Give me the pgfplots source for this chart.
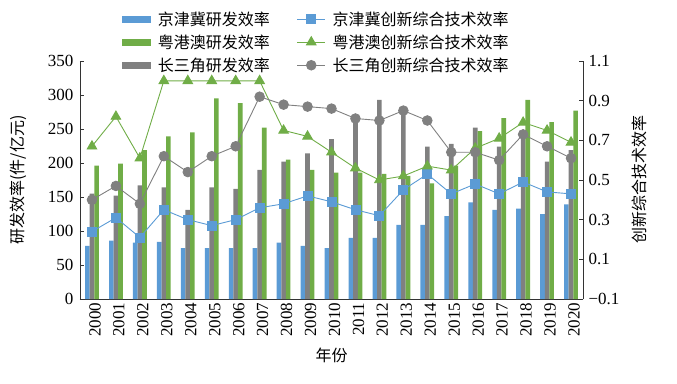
\documentclass[border=0pt]{standalone}
\usepackage{pgfplots}
\usepackage{pgfplotstable}
\pgfplotsset{compat=1.18}
\usepackage{fontspec}
\setmainfont{Liberation Serif}
\newfontfamily\cjk{Noto Sans CJK SC}
\definecolor{cblue}{HTML}{5B9BD5}
\definecolor{cgreen}{HTML}{70AD47}
\definecolor{cgray}{HTML}{808080}

\pgfplotstableread{
x blue gray green rb rg rgr
0 78 155 196 0.24 0.67 0.40
1 86 152 199 0.31 0.82 0.47
2 83 167 219 0.21 0.61 0.38
3 84 164 239 0.35 1.00 0.62
4 75 131 245 0.30 1.00 0.54
5 75 164 295 0.27 1.00 0.62
6 75 162 288 0.30 1.00 0.67
7 75 190 252 0.36 1.00 0.92
8 83 202 205 0.38 0.75 0.88
9 78 214 190 0.42 0.72 0.87
10 75 235 186 0.39 0.64 0.86
11 90 265 186 0.35 0.56 0.81
12 90 293 184 0.32 0.50 0.80
13 109 276 181 0.45 0.52 0.85
14 109 224 170 0.53 0.57 0.80
15 122 228 196 0.43 0.55 0.64
16 142 252 247 0.48 0.66 0.64
17 131 224 266 0.43 0.71 0.60
18 133 246 293 0.49 0.79 0.73
19 125 202 260 0.44 0.75 0.67
20 139 219 277 0.43 0.69 0.61
}\data

\pgfplotsset{
  lineleg/.style={legend image code/.code={\draw[mark repeat=2,mark phase=2,##1] plot coordinates {(0bp,0bp) (14bp,0bp) (28bp,0bp)};}},
  common/.style={scale only axis, width=503bp, height=238bp, xmin=-0.5, xmax=20.5,
    tick align=inside, major tick length=4bp,
    tick label style={font=\fontsize{17bp}{20bp}\selectfont},
    /pgf/number format/assume math mode=true,
    axis line style={black!80, line width=0.8bp},
    every tick/.style={black!80, line width=0.8bp}},
}

\begin{document}
\begin{tikzpicture}
\begin{axis}[common,
  ymin=0, ymax=350,
  axis x line*=bottom, axis y line*=left,
  ytick={0,50,...,350},
  xtick={0,...,20},
  xticklabels={2000,2001,2002,2003,2004,2005,2006,2007,2008,2009,2010,2011,2012,2013,2014,2015,2016,2017,2018,2019,2020},
  x tick label style={rotate=90, anchor=east, yshift=-3bp},
  y tick label style={xshift=-3bp},
  x tick style={draw=none},
  ylabel={研发效率(件/亿元)},
  xlabel={年份},
  every axis y label/.style={at={(axis description cs:-0.123,0.5)}, rotate=90, anchor=center, font=\cjk\fontsize{16bp}{19bp}\selectfont},
  every axis x label/.style={at={(axis description cs:0.5,-0.235)}, anchor=center, font=\cjk\fontsize{16bp}{19bp}\selectfont},
]
\addplot[ybar, bar width=4.6bp, bar shift=-4.6bp, fill=cblue, draw=none] table[x=x,y=blue]{\data};
\addplot[ybar, bar width=4.6bp, bar shift=0bp, fill=cgray, draw=none] table[x=x,y=gray]{\data};
\addplot[ybar, bar width=4.6bp, bar shift=4.6bp, fill=cgreen, draw=none] table[x=x,y=green]{\data};
\end{axis}
\begin{axis}[common,
  ymin=-0.1, ymax=1.1,
  axis y line*=right, axis x line=none,
  ytick={-0.1,0.1,0.3,0.5,0.7,0.9,1.1},
  yticklabels={−0.1,0.1,0.3,0.5,0.7,0.9,1.1},
  y tick label style={xshift=2bp},
  ylabel={创新综合技术效率},
  every axis y label/.style={at={(axis description cs:1.113,0.5)}, rotate=90, anchor=center, font=\cjk\fontsize{16bp}{19bp}\selectfont},
  legend columns=2,
  legend cell align=left,
  legend style={draw=none, fill=none, at={(axis description cs:0.078,1.225)}, anchor=north west,
    font=\cjk\fontsize{16bp}{19bp}\selectfont, row sep=4bp,
    /tikz/every odd column/.append style={column sep=5bp},
    /tikz/every even column/.append style={column sep=25bp}},
]
\addlegendimage{legend image code/.code={\fill[cblue] (0bp,-3bp) rectangle (28bp,3bp);}}
\addlegendentry{京津冀研发效率}
\addplot[cblue, line width=0.9bp, mark=square*, mark size=4.5bp, mark options={fill=cblue, draw=cblue}, lineleg] table[x=x,y=rb]{\data};
\addlegendentry{京津冀创新综合技术效率}
\addlegendimage{legend image code/.code={\fill[cgreen] (0bp,-3bp) rectangle (28bp,3bp);}}
\addlegendentry{粤港澳研发效率}
\addplot[cgreen, line width=0.9bp, mark=triangle*, mark size=5.5bp, mark options={fill=cgreen, draw=cgreen}, lineleg] table[x=x,y=rg]{\data};
\addlegendentry{粤港澳创新综合技术效率}
\addlegendimage{legend image code/.code={\fill[cgray] (0bp,-3bp) rectangle (28bp,3bp);}}
\addlegendentry{长三角研发效率}
\addplot[cgray, line width=0.9bp, mark=*, mark size=4.8bp, mark options={fill=cgray, draw=cgray}, lineleg] table[x=x,y=rgr]{\data};
\addlegendentry{长三角创新综合技术效率}
\coordinate (sw) at (rel axis cs:0,0);
\coordinate (ne) at (rel axis cs:1,1);
\end{axis}
\pgfresetboundingbox
\path ([shift={(-80bp,-85bp)}]sw) rectangle ([shift={(94bp,61bp)}]ne);
\end{tikzpicture}
\end{document}
